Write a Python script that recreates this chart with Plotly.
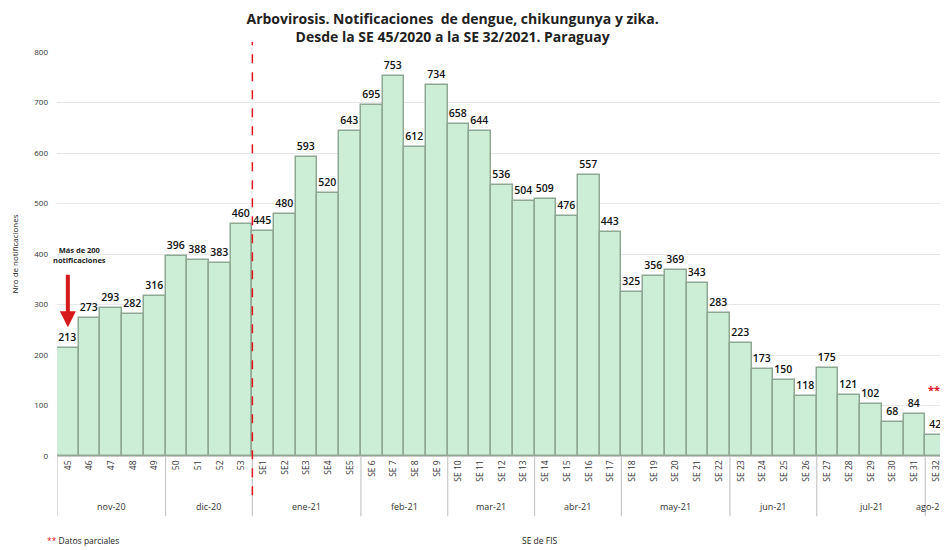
import plotly.graph_objects as go

weeks = ["45", "46", "47", "48", "49", "50", "51", "52", "53",
         "SE1", "SE2", "SE3", "SE4", "SE5"] + [f"SE {i}" for i in range(6, 33)]
values = [213, 273, 293, 282, 316, 396, 388, 383, 460,
          445, 480, 593, 520, 643, 695, 753, 612, 734, 658, 644, 536, 504,
          509, 476, 557, 443, 325, 356, 369, 343, 283, 223, 173, 150, 118,
          175, 121, 102, 68, 84, 42]
months = ["nov-20", "dic-20", "ene-21", "feb-21", "mar-21", "abr-21",
          "may-21", "jun-21", "jul-21", "ago-21"]
month_counts = [5, 4, 5, 4, 4, 4, 5, 4, 5, 1]
yticks = [0, 100, 200, 300, 400, 500, 600, 700, 800]
split_index = 9  # first week of 2021 (SE1)

FONT = "Open Sans"
x = list(range(len(values)))
n = len(values)

fig = go.Figure()
fig.add_trace(go.Bar(
    x=x, y=values,
    marker=dict(color="#cdeed6", line=dict(color="#8ea893", width=1.5)),
    text=[str(v) for v in values], textposition="outside",
    textfont=dict(family=FONT, size=10.5, color="#111", weight=600),
    cliponaxis=False, width=1.0,
))

shapes = []
annotations = []
# month group separators and labels
start = 0
bounds = [start - 0.5]
for m, c in zip(months, month_counts):
    end = start + c
    center = (start + end - 1) / 2
    if end == n and c == 1:
        # last single-week group: keep the label inside the page
        annotations.append(dict(x=1.0, y=-0.126, xref="paper", yref="paper",
                                xanchor="right", text=m, showarrow=False, yanchor="middle",
                                font=dict(family=FONT, size=9, color="#333")))
    else:
        annotations.append(dict(x=center, y=-0.126, xref="x", yref="paper",
                                text=m, showarrow=False, yanchor="middle",
                                font=dict(family=FONT, size=9, color="#333")))
    bounds.append(end - 0.5)
    start = end
for b in bounds:
    bx = min(b, n - 0.6)
    shapes.append(dict(type="line", xref="x", yref="paper", x0=bx, x1=bx, y0=0, y1=-0.149,
                       line=dict(color="#c8c8c8", width=1.2)))

# red dashed line separating 2020 and 2021
shapes.append(dict(type="line", xref="x", yref="paper",
                   x0=split_index - 0.5, x1=split_index - 0.5, y0=-0.097, y1=1.025,
                   line=dict(color="#e0141e", width=1.5, dash="dash")))

# arrow annotation
annotations.append(dict(x=0, y=255, xref="x", yref="y", ax=0, ay=362, axref="x", ayref="y",
                        text="", showarrow=True, arrowhead=2, arrowsize=0.8,
                        arrowwidth=4, arrowcolor="#d61a1a"))
annotations.append(dict(x=0.55, y=398, xref="x", yref="y",
                        text="<b>Más de 200<br>notificaciones</b>", showarrow=False,
                        font=dict(family=FONT, size=7.5, color="#222")))
annotations.append(dict(x=39.9, y=131, xref="x", yref="y", text="<b>**</b>",
                        showarrow=False, font=dict(family=FONT, size=11, color="#e0141e")))
# footnotes
annotations.append(dict(x=-0.0135, y=-0.21, xref="paper", yref="paper", xanchor="left",
                        yanchor="middle",
                        text="<span style='color:#e0141e'>**</span> Datos parciales",
                        showarrow=False, font=dict(family=FONT, size=8.5, color="#222")))
annotations.append(dict(x=0.543, y=-0.21, xref="paper", yref="paper", yanchor="middle",
                        text="SE de FIS", showarrow=False,
                        font=dict(family=FONT, size=8.5, color="#222")))

# page body has an 8px margin; size the figure to fill the rest of the 948x550 window
fig.update_layout(
    width=940, height=542,
    margin=dict(l=49, r=1, t=44, b=94),
    paper_bgcolor="white", plot_bgcolor="white",
    showlegend=False,
    bargap=0,
    title=dict(text="<b>Arbovirosis. Notificaciones  de dengue, chikungunya y zika.<br>"
                    "Desde la SE 45/2020 a la SE 32/2021. Paraguay</b>",
               x=0.473, xanchor="center", y=0.971, yanchor="top",
               font=dict(family=FONT, size=14, color="#222")),
    xaxis=dict(range=[-0.5, n - 0.5], tickvals=x, ticktext=weeks,
               tickangle=-90, tickfont=dict(family=FONT, size=8.5, color="#333"),
               showgrid=False, showline=True, linecolor="#c8c8c8", linewidth=1,
               ticks="", zeroline=False),
    yaxis=dict(range=[0, 800], tickvals=yticks, showgrid=True, gridcolor="#e8e8e8",
               tickfont=dict(family=FONT, size=8, color="#333"),
               ticklabelstandoff=8, zeroline=False, showline=False,
               title=dict(text="Nro de notificaciones",
                          font=dict(family=FONT, size=8, color="#222"), standoff=14)),
    shapes=shapes, annotations=annotations,
)

fig.write_html("out.html")
